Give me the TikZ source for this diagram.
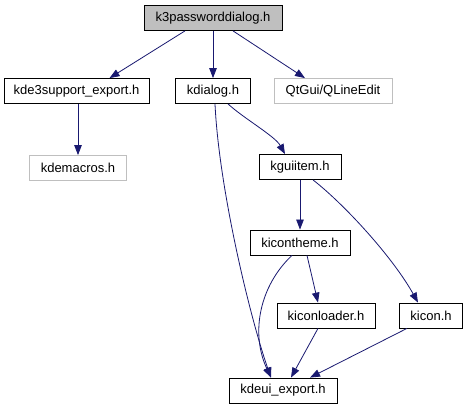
\documentclass[tikz,border=0pt]{standalone}
\usepackage{fontspec}
\setmainfont{Liberation Sans}
\usetikzlibrary{arrows.meta}
\definecolor{edgeblue}{HTML}{191970}
\definecolor{greyline}{HTML}{BFBFBF}
\begin{document}
\begin{tikzpicture}[x=1pt,y=-1pt,
  box/.style={draw=black, fill=white, line width=0.8pt, inner sep=0pt,
    minimum height=25pt, font=\fontsize{13}{15}\selectfont},
  rootbox/.style={box, fill=greyline},
  greybox/.style={box, draw=greyline},
  dep/.style={draw=edgeblue, line width=0.8pt, -{Triangle[length=10pt,width=7.5pt]}}]
\useasboundingbox (0,0) rectangle (469,411);
\node[rootbox, minimum width=138pt] (top) at (213,18) {k3passworddialog.h};
\node[box, minimum width=145pt] (k3s) at (76.5,91) {kde3support\_export.h};
\node[box, minimum width=75pt] (kdialog) at (213,91) {kdialog.h};
\node[greybox, minimum width=118pt] (qle) at (333,91) {QtGui/QLineEdit};
\node[greybox, minimum width=97pt] (kdemacros) at (78,168) {kdemacros.h};
\node[box, minimum width=82pt] (kguiitem) at (300,167) {kguiitem.h};
\node[box, minimum width=100pt] (kicontheme) at (300,242.5) {kicontheme.h};
\node[box, minimum width=98pt] (kiconloader) at (326,315.5) {kiconloader.h};
\node[box, minimum width=63pt] (kicon) at (431,315.5) {kicon.h};
\node[box, minimum width=108pt] (kdeui) at (283,390.5) {kdeui\_export.h};

\draw[dep] ([xshift=-28pt]top.south) -- ([xshift=33pt]k3s.north);
\draw[dep] (top) -- (kdialog);
\draw[dep] ([xshift=20pt]top.south) -- ([xshift=-28pt]qle.north);
\draw[dep] ([xshift=1.5pt]k3s.south) -- (kdemacros.north);
\draw[dep] ([xshift=15pt]kdialog.south) .. controls ([xshift=30pt,yshift=-14pt]kdialog.south) and ([xshift=-25pt,yshift=18pt]kguiitem.north) .. ([xshift=-15pt]kguiitem.north);
\draw[dep] ([xshift=2pt]kdialog.south) .. controls ([xshift=6pt,yshift=-85pt]kdialog.south) and ([xshift=-33pt,yshift=60pt]kdeui.north) .. ([xshift=-12pt]kdeui.north);
\draw[dep] (kguiitem) -- (kicontheme);
\draw[dep] ([xshift=13pt]kguiitem.south) .. controls ([xshift=45pt,yshift=-25pt]kguiitem.south) and ([xshift=-38pt,yshift=45pt]kicon.north) .. ([xshift=-13pt]kicon.north);
\draw[dep] ([xshift=7pt]kicontheme.south) -- ([xshift=-8pt]kiconloader.north);
\draw[dep] ([xshift=-8pt]kicontheme.south) .. controls ([xshift=-40pt,yshift=-30pt]kicontheme.south) and ([xshift=-33pt,yshift=45pt]kdeui.north) .. ([xshift=-12pt]kdeui.north);
\draw[dep] ([xshift=-8pt]kiconloader.south) -- ([xshift=8pt]kdeui.north);
\draw[dep] ([xshift=-24pt]kicon.south) -- ([xshift=27pt]kdeui.north);
\end{tikzpicture}
\end{document}
